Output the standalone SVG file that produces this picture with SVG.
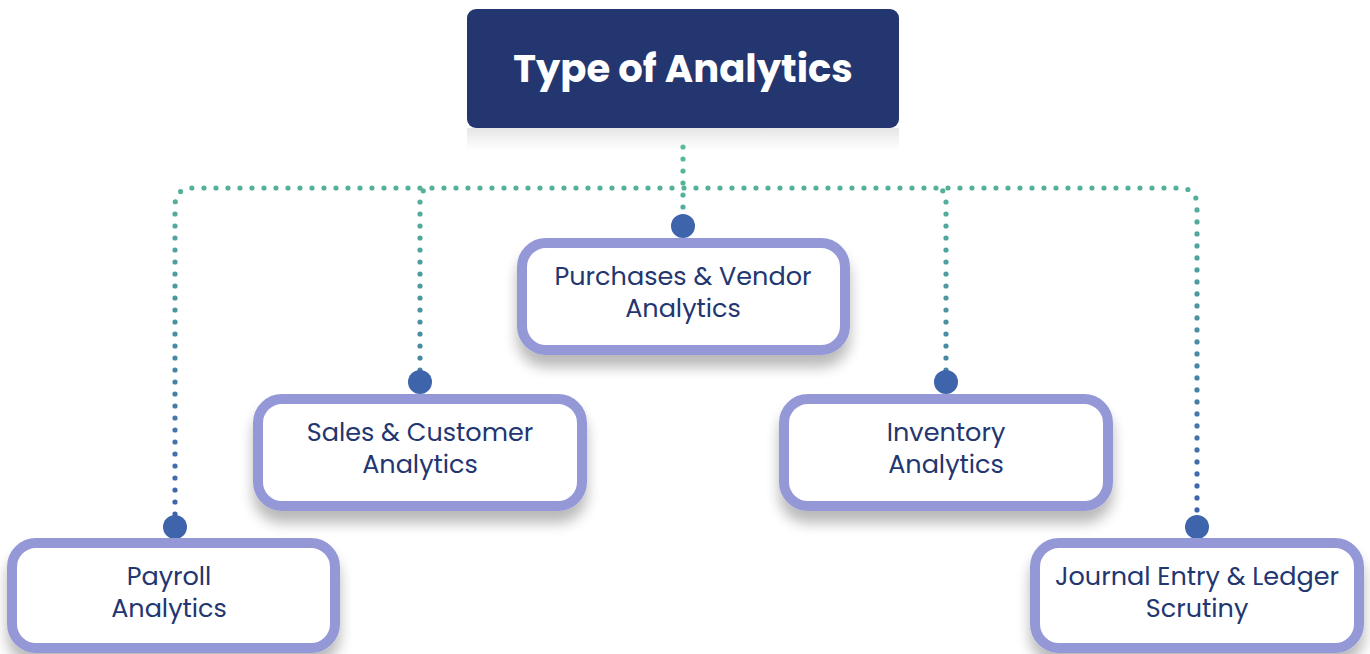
<svg xmlns="http://www.w3.org/2000/svg" width="1370" height="654" viewBox="0 0 1370 654">
<defs>
  <linearGradient id="dotGrad" gradientUnits="userSpaceOnUse" x1="0" y1="145" x2="0" y2="520">
    <stop offset="0" stop-color="#58BC98"/>
    <stop offset="1" stop-color="#3D60AD"/>
  </linearGradient>
  <linearGradient id="hdrShadow" x1="0" y1="0" x2="0" y2="1">
    <stop offset="0" stop-color="#000" stop-opacity="0.10"/>
    <stop offset="1" stop-color="#000" stop-opacity="0"/>
  </linearGradient>
  <filter id="shadow" x="-10%" y="-10%" width="120%" height="140%">
    <feGaussianBlur in="SourceAlpha" stdDeviation="7"/>
    <feOffset dx="0" dy="12" result="b"/>
    <feComponentTransfer><feFuncA type="linear" slope="0.28"/></feComponentTransfer>
    <feMerge><feMergeNode/><feMergeNode in="SourceGraphic"/></feMerge>
  </filter>
</defs>
<style>
  .box { fill: #ffffff; stroke: #9598D6; stroke-width: 10; }
  .lbl { font-family: Poppins, "Open Sans", "Noto Sans", sans-serif; font-size: 25.5px; fill: #233670; text-anchor: middle; }
  .dots { fill: none; stroke: url(#dotGrad); stroke-width: 5.2; stroke-linecap: round; stroke-dasharray: 0 12; }
  .knob { fill: #3E64AC; }
</style>
<rect width="1370" height="654" fill="#ffffff"/>

<g id="header">
  <rect x="467" y="128" width="432" height="22" fill="url(#hdrShadow)"/>
  <rect x="467" y="9" width="432" height="119" rx="9" fill="#233670"/>
  <text x="683" y="82" font-family="Poppins, 'Open Sans', 'Noto Sans', sans-serif" font-weight="700" font-size="38.5" fill="#ffffff" text-anchor="middle">Type of Analytics</text>
</g>

<g id="connectors">
  <path class="dots" d="M683,147 V213"/>
  <path class="dots" d="M175,514 V206 Q175,188 193,188 H1179 Q1197,188 1197,206 V514"/>
  <path class="dots" d="M420,370 V200 Q420,188 432,188"/>
  <path class="dots" d="M946,370 V200 Q946,188 934,188"/>
  <circle class="knob" cx="175" cy="527" r="12"/>
  <circle class="knob" cx="420" cy="382" r="12"/>
  <circle class="knob" cx="683" cy="226" r="12"/>
  <circle class="knob" cx="946" cy="382" r="12"/>
  <circle class="knob" cx="1197" cy="527" r="12"/>
</g>

<g id="node-purchases">
  <rect class="box" x="522" y="243" width="323" height="107" rx="24" filter="url(#shadow)"/>
  <text class="lbl" x="683" y="285">Purchases &amp; Vendor</text>
  <text class="lbl" x="683" y="317">Analytics</text>
</g>

<g id="node-sales">
  <rect class="box" x="258" y="399" width="324" height="107" rx="24" filter="url(#shadow)"/>
  <text class="lbl" x="420" y="441">Sales &amp; Customer</text>
  <text class="lbl" x="420" y="473">Analytics</text>
</g>

<g id="node-inventory">
  <rect class="box" x="784" y="399" width="324" height="107" rx="24" filter="url(#shadow)"/>
  <text class="lbl" x="946" y="441">Inventory</text>
  <text class="lbl" x="946" y="473">Analytics</text>
</g>

<g id="node-payroll">
  <rect class="box" x="12" y="543" width="323" height="105" rx="24" filter="url(#shadow)"/>
  <text class="lbl" x="169" y="585">Payroll</text>
  <text class="lbl" x="169" y="617">Analytics</text>
</g>

<g id="node-journal">
  <rect class="box" x="1035" y="543" width="324" height="105" rx="24" filter="url(#shadow)"/>
  <text class="lbl" x="1197" y="585">Journal Entry &amp; Ledger</text>
  <text class="lbl" x="1197" y="617">Scrutiny</text>
</g>
</svg>
